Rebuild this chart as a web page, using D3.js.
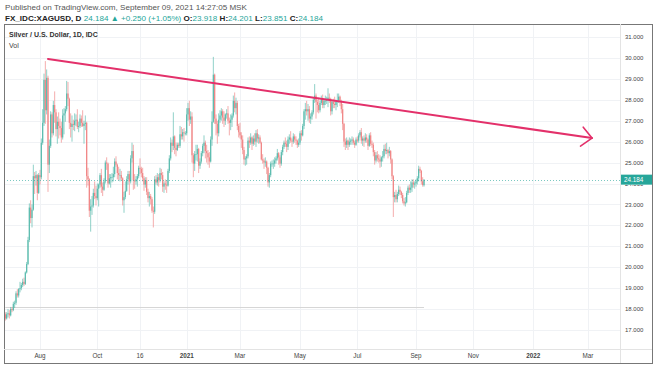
<!DOCTYPE html>
<html>
<head>
<meta charset="utf-8">
<script src="https://cdn.jsdelivr.net/npm/d3@7"></script>
<style>
  body { margin: 0; background: #fff; }
  svg { display: block; font-family: "Liberation Sans", Arial, sans-serif; }
</style>
</head>
<body>
<svg id="chart" width="654" height="366"></svg>
<script>
// daily XAGUSD candles, first bar 2020-06-26, weekdays only (one line = one week)
const firstDate = "2020-06-26";

const opens = [
  17.75,
  17.55,17.75,17.8,17.7,18.0,
  17.95,18.25,18.3,18.75,18.65,
  18.95,19.0,19.15,19.3,19.2,
  19.75,20.15,21.3,22.85,22.35,
  22.75,24.35,24.25,24.4,23.55,
  24.4,24.3,25.95,26.9,28.95,
  27.5,29.05,24.9,25.8,27.3,
  26.4,27.75,27.4,26.6,26.95,
  26.75,26.65,26.2,27.25,27.35,
  27.55,28.3,28.05,26.9,26.7,
  26.85,26.8,27.0,27.05,26.7,
  26.75,27.1,26.9,26.75,26.85,
  26.9,24.35,24.2,22.7,22.9,
  22.95,23.55,23.4,23.3,23.75,
  23.95,24.4,23.85,23.7,24.1,
  25.0,24.95,24.0,24.25,24.3,
  24.3,24.45,25.05,24.9,24.5,
  24.4,24.4,24.25,23.2,23.35,
  23.65,24.2,24.45,24.1,25.2,
  25.55,24.15,24.1,24.2,24.35,
  24.75,24.7,24.5,24.25,23.95,
  24.15,23.6,23.3,23.4,23.25,
  22.7,22.65,24.2,24.05,24.3,
  24.15,24.5,24.4,23.85,24.0,
  23.95,23.9,24.6,25.2,25.95,
  25.8,26.25,25.7,25.6,25.85,
  25.8,26.35,26.25,26.45,26.4,
  26.4,27.3,27.6,27.05,27.2,
  25.35,24.95,25.4,25.4,25.65,
  24.85,25.05,25.45,25.8,25.95,
  25.55,25.45,25.25,25.05,26.1,
  26.95,29.2,27.1,26.85,26.4,
  27.05,27.25,27.45,27.15,27.0,
  27.3,27.35,27.0,26.9,27.05,
  27.25,27.95,27.6,27.85,26.75,
  26.45,26.3,26.1,25.6,25.15,
  25.2,25.3,26.05,25.95,26.2,
  25.9,26.15,26.0,26.4,26.15,
  26.2,25.95,25.15,25.1,25.0,
  25.05,24.75,24.05,24.4,24.95,
  24.95,24.95,25.1,25.2,25.45,
  25.25,24.95,25.5,25.75,25.95,
  25.9,25.75,26.1,26.2,26.05,
  26.0,26.25,26.1,26.05,25.85,
  25.95,26.4,26.3,26.75,27.45,
  27.55,27.45,27.55,27.1,27.2,
  27.4,28.0,28.2,27.9,27.75,
  27.5,27.85,28.05,27.75,27.95,
  27.95,28.0,28.1,28.05,27.45,
  27.9,27.8,27.75,27.9,27.95,
  28.15,27.9,27.55,26.85,26.0,
  25.85,26.05,25.85,26.0,26.05,
  26.1,25.95,25.85,26.1,26.05,
  26.3,26.45,26.05,26.15,26.05,
  26.2,26.1,25.8,26.3,25.9,
  25.85,25.5,25.1,25.35,25.2,
  25.15,25.05,25.25,25.3,25.65,
  25.55,25.6,25.45,25.55,25.15,
  24.35,23.35,23.45,23.25,23.5,
  23.7,23.6,23.45,23.15,23.05,
  23.1,23.55,23.8,23.7,23.8,
  24.05,23.95,24.0,24.1,24.25,
  24.7,24.6,24.1,23.918
];

const highs = [
  17.85,
  17.85,18.0,17.95,18.1,18.1,
  18.35,18.4,18.85,18.95,19.0,
  19.3,19.25,19.45,19.5,19.8,
  20.25,21.45,23.05,23.2,23.0,
  24.9,24.55,24.6,24.45,24.5,
  24.65,26.15,27.55,29.25,29.85,
  29.45,29.15,26.1,27.45,27.4,
  27.95,28.4,27.55,27.2,27.4,
  27.1,26.95,27.55,27.6,27.7,
  28.9,28.85,28.1,27.35,27.25,
  27.05,27.35,27.3,27.55,26.95,
  27.3,27.25,27.5,27.0,27.25,
  26.95,24.75,24.25,23.25,23.4,
  23.75,24.1,23.9,24.0,24.0,
  24.5,24.7,24.05,24.25,25.1,
  25.25,25.0,24.45,24.45,24.5,
  24.8,25.2,25.3,24.95,24.8,
  24.7,24.6,24.3,23.6,24.1,
  24.35,24.6,24.6,25.35,25.95,
  25.85,24.45,24.35,24.45,24.85,
  25.2,24.8,24.75,24.35,24.3,
  24.3,23.75,23.6,23.5,23.35,
  22.9,24.35,24.4,24.5,24.45,
  24.75,24.7,24.55,24.1,24.2,
  24.15,24.7,25.35,26.2,26.1,
  27.4,26.3,25.95,25.95,25.95,
  26.75,26.7,26.6,26.65,26.5,
  27.6,27.85,27.95,27.45,27.4,
  25.45,25.55,25.85,25.85,25.7,
  25.2,25.55,25.9,26.3,26.05,
  25.85,25.6,25.5,26.25,27.45,
  30.05,29.25,27.3,27.0,27.35,
  27.5,27.6,27.55,27.45,27.35,
  27.55,27.7,27.15,27.3,27.35,
  28.2,28.35,28.1,27.95,26.85,
  26.9,26.45,26.3,25.75,25.3,
  25.4,26.2,26.25,26.4,26.25,
  26.3,26.4,26.55,26.6,26.35,
  26.3,26.0,25.4,25.2,25.25,
  25.1,24.8,24.5,25.05,25.1,
  25.15,25.25,25.3,25.65,25.5,
  25.35,25.6,25.85,26.05,26.2,
  26.05,26.25,26.35,26.5,26.15,
  26.4,26.35,26.25,26.1,26.15,
  26.5,26.55,26.85,27.55,27.85,
  27.95,27.8,27.7,27.35,27.5,
  28.1,28.75,28.3,28.0,28.1,
  27.95,28.2,28.25,28.05,28.2,
  28.15,28.55,28.3,28.1,28.0,
  28.05,28.15,28.0,28.3,28.3,
  28.2,28.0,27.8,26.9,26.15,
  26.2,26.1,26.2,26.15,26.25,
  26.2,26.05,26.2,26.25,26.4,
  26.55,26.65,26.25,26.3,26.4,
  26.35,26.15,26.4,26.45,26.05,
  25.95,25.6,25.5,25.55,25.4,
  25.35,25.3,25.55,25.85,25.9,
  25.95,25.65,25.75,25.6,25.2,
  24.4,23.6,23.7,23.6,23.9,
  23.85,23.65,23.55,23.3,23.35,
  23.65,23.9,23.95,24.1,24.2,
  24.2,24.1,24.2,24.35,24.85,
  24.8,24.65,24.3,24.201
];

const lows = [
  17.45,
  17.5,17.6,17.55,17.65,17.85,
  17.9,18.05,18.2,18.55,18.55,
  18.8,18.9,19.05,19.1,19.15,
  19.7,20.1,21.2,22.1,21.9,
  22.7,23.5,23.9,23.2,23.5,
  23.95,24.2,25.85,26.75,26.85,
  27.3,23.6,24.5,25.7,26.2,
  26.3,26.9,26.25,25.9,26.15,
  26.3,25.95,26.1,26.35,26.95,
  27.45,27.7,26.6,26.2,26.0,
  26.55,26.5,26.75,26.6,26.45,
  26.65,26.7,26.7,25.9,26.55,
  23.8,23.9,22.4,21.7,22.5,
  22.85,23.25,22.95,23.2,22.9,
  23.8,23.55,23.4,23.65,24.0,
  24.65,23.8,23.95,23.8,24.05,
  24.1,24.3,24.8,24.2,24.15,
  24.1,24.15,22.95,22.6,23.25,
  23.6,23.95,23.45,24.0,25.0,
  23.7,23.75,23.95,23.85,24.25,
  24.45,24.3,24.1,23.65,23.8,
  23.45,23.1,22.9,23.0,22.6,
  21.9,22.55,23.95,23.9,23.85,
  24.05,24.2,23.6,23.55,23.7,
  23.55,23.85,24.5,25.1,25.5,
  25.6,25.4,25.3,25.55,25.7,
  25.7,26.1,26.1,26.0,26.3,
  26.3,27.0,26.75,26.85,25.0,
  24.3,24.6,25.1,25.05,24.5,
  24.7,24.95,25.3,25.45,25.2,
  25.0,24.9,24.75,25.0,25.8,
  26.9,26.85,26.3,25.9,26.25,
  26.9,27.0,26.85,26.7,26.8,
  27.1,26.85,26.3,26.55,26.7,
  27.15,27.4,27.3,26.55,26.2,
  26.15,25.7,25.4,24.9,24.85,
  24.9,25.2,25.7,25.85,25.6,
  25.8,25.85,25.75,25.95,25.9,
  25.9,25.1,24.95,24.7,24.8,
  24.45,23.85,23.8,24.3,24.8,
  24.7,24.8,24.95,25.1,24.9,
  24.75,24.85,25.35,25.65,25.75,
  25.5,25.6,25.9,25.95,25.75,
  25.9,25.95,25.85,25.7,25.75,
  25.85,26.05,26.25,26.6,27.05,
  27.25,27.0,26.9,26.85,27.05,
  27.3,27.85,27.1,27.4,27.35,
  27.4,27.75,27.6,27.6,27.75,
  27.8,27.65,27.85,27.25,27.3,
  27.6,27.6,27.5,27.65,27.85,
  27.7,27.35,26.55,25.75,25.6,
  25.7,25.6,25.75,25.85,25.85,
  25.85,25.7,25.8,25.95,25.95,
  26.2,25.9,25.8,25.75,25.95,
  25.95,25.6,25.75,25.8,25.7,
  25.3,24.9,25.0,25.05,25.0,
  24.75,24.8,25.05,25.2,25.4,
  25.4,25.2,25.3,24.95,24.2,
  22.4,23.1,23.1,23.1,23.4,
  23.45,23.3,23.05,22.95,22.9,
  23.05,23.45,23.55,23.55,23.6,
  23.8,23.75,23.85,23.95,24.1,
  24.5,23.95,23.85,23.851
];

const closes = [
  17.55,
  17.75,17.8,17.7,18.0,17.95,
  18.25,18.3,18.75,18.65,18.95,
  19.0,19.15,19.3,19.2,19.75,
  20.15,21.3,22.85,22.35,22.75,
  24.35,24.25,24.4,23.55,24.4,
  24.3,25.95,26.9,28.95,27.5,
  29.05,24.9,25.8,27.3,26.4,
  27.75,27.4,26.6,26.95,26.75,
  26.65,26.2,27.25,27.35,27.55,
  28.3,28.05,26.9,26.7,26.85,
  26.8,27.0,27.05,26.7,26.75,
  27.1,26.9,26.75,26.85,26.9,
  24.35,24.2,22.7,22.9,22.95,
  23.55,23.4,23.3,23.75,23.95,
  24.4,23.85,23.7,24.1,25.0,
  24.95,24.0,24.25,24.3,24.3,
  24.45,25.05,24.9,24.5,24.4,
  24.4,24.25,23.2,23.35,23.65,
  24.2,24.45,24.1,25.2,25.55,
  24.15,24.1,24.2,24.35,24.75,
  24.7,24.5,24.25,23.95,24.15,
  23.6,23.3,23.4,23.25,22.7,
  22.65,24.2,24.05,24.3,24.15,
  24.5,24.4,23.85,24.0,23.95,
  23.9,24.6,25.2,25.95,25.8,
  26.25,25.7,25.6,25.85,25.8,
  26.35,26.25,26.45,26.4,26.4,
  27.3,27.6,27.05,27.2,25.35,
  24.95,25.4,25.4,25.65,24.85,
  25.05,25.45,25.8,25.95,25.55,
  25.45,25.25,25.05,26.1,26.95,
  29.2,27.1,26.85,26.4,27.05,
  27.25,27.45,27.15,27.0,27.3,
  27.35,27.0,26.9,27.05,27.25,
  27.95,27.6,27.85,26.75,26.45,
  26.3,26.1,25.6,25.15,25.2,
  25.3,26.05,25.95,26.2,25.9,
  26.15,26.0,26.4,26.15,26.2,
  25.95,25.15,25.1,25.0,25.05,
  24.75,24.05,24.4,24.95,24.95,
  24.95,25.1,25.2,25.45,25.25,
  24.95,25.5,25.75,25.95,25.9,
  25.75,26.1,26.2,26.05,26.0,
  26.25,26.1,26.05,25.85,25.95,
  26.4,26.3,26.75,27.45,27.55,
  27.45,27.55,27.1,27.2,27.4,
  28.0,28.2,27.9,27.75,27.5,
  27.85,28.05,27.75,27.95,27.95,
  28.0,28.1,28.05,27.45,27.9,
  27.8,27.75,27.9,27.95,28.15,
  27.9,27.55,26.85,26.0,25.85,
  26.05,25.85,26.0,26.05,26.1,
  25.95,25.85,26.1,26.05,26.3,
  26.45,26.05,26.15,26.05,26.2,
  26.1,25.8,26.3,25.9,25.85,
  25.5,25.1,25.35,25.2,25.15,
  25.05,25.25,25.3,25.65,25.55,
  25.6,25.45,25.55,25.15,24.35,
  23.35,23.45,23.25,23.5,23.7,
  23.6,23.45,23.15,23.05,23.1,
  23.55,23.8,23.7,23.8,24.05,
  23.95,24.0,24.1,24.25,24.7,
  24.6,24.1,23.93,24.184
];

const lastPrice = 24.184;
const volLine = 18.1;

const tickDates = ["2020-08-03","2020-10-01","2020-11-16","2021-01-04","2021-03-01","2021-05-03",
                   "2021-07-01","2021-09-01","2021-11-01","2022-01-03","2022-03-01"];
const tickLabels = ["Aug","Oct","16","2021","Mar","May","Jul","Sep","Nov","2022","Mar"];
const yearTicks = ["2021","2022"];
const priceTicks = [17,18,19,20,21,22,23,24,25,26,27,28,29,30,31];

// drawn trend line with arrow
const trendStart = { date: "2020-08-11", price: 29.95 };
const trendEnd = { date: "2022-03-04", price: 26.17 };

// ---- helpers
const parse = d3.utcParse("%Y-%m-%d");
const t0 = parse(firstDate);
function weekdayIndex(ds) {
  const d = parse(ds);
  return d3.utcDay.count(t0, d) - (d3.utcSaturday.count(t0, d) + d3.utcSunday.count(t0, d));
}

const n = Math.min(opens.length, highs.length, lows.length, closes.length);
const bars = d3.range(n).map(i => ({ i, o: opens[i], h: highs[i], l: lows[i], c: closes[i] }));

const svg = d3.select("#chart");
const padL = 4, padR = 652, padT = 24, padB = 363, axisX = 620, axisY = 349;

const x = d3.scaleLinear().domain([-1, 461]).range([padL, axisX]);
const y = d3.scaleLinear().domain([17, 31]).range([330, 37]);

// header texts
svg.append("text").attr("x", 5).attr("y", 9.5)
  .attr("font-size", 8.1).attr("fill", "#555")
  .text("Published on TradingView.com, September 09, 2021 14:27:05 MSK");

const hdr = svg.append("text").attr("x", 5).attr("y", 20.5).attr("font-size", 8.1).attr("fill", "#222");
const teal = "#26a69a";
[["FX_IDC:XAGUSD, D ", "#222", "bold"], ["24.184 ", teal, "normal"], ["\u25B2 +0.250 (+1.05%) ", teal, "normal"],
 ["O:", "#222", "bold"], ["23.918 ", teal, "normal"], ["H:", "#222", "bold"], ["24.201 ", teal, "normal"],
 ["L:", "#222", "bold"], ["23.851 ", teal, "normal"], ["C:", "#222", "bold"], ["24.184", teal, "normal"]]
  .forEach(p => hdr.append("tspan").attr("fill", p[1]).attr("font-weight", p[2]).text(p[0]));

// grid
const g = svg.append("g");
g.selectAll(".hg").data(priceTicks).enter().append("line")
  .attr("x1", padL).attr("x2", axisX).attr("y1", d => Math.round(y(d)) + 0.5).attr("y2", d => Math.round(y(d)) + 0.5)
  .attr("stroke", "#f0f2f5");
g.selectAll(".vg").data(tickDates).enter().append("line")
  .attr("x1", d => Math.round(x(weekdayIndex(d))) + 0.5).attr("x2", d => Math.round(x(weekdayIndex(d))) + 0.5)
  .attr("y1", padT).attr("y2", axisY).attr("stroke", "#f0f2f5");

// volume baseline
g.append("line")
  .attr("x1", x(0)).attr("x2", x(n - 1))
  .attr("y1", Math.round(y(volLine)) + 0.5).attr("y2", Math.round(y(volLine)) + 0.5)
  .attr("stroke", "#d6d6d6");

// candles
const upC = "#52b8aa", dnC = "#f08080";
const cg = svg.append("g");
cg.selectAll(".wick").data(bars).enter().append("line")
  .attr("x1", d => x(d.i)).attr("x2", d => x(d.i))
  .attr("y1", d => y(d.h)).attr("y2", d => y(d.l))
  .attr("stroke", d => d.c >= d.o ? upC : dnC).attr("stroke-width", 0.8).attr("opacity", 0.8);
cg.selectAll(".body").data(bars).enter().append("rect")
  .attr("x", d => x(d.i) - 0.6).attr("width", 1.2)
  .attr("y", d => y(Math.max(d.o, d.c)))
  .attr("height", d => Math.max(0.6, Math.abs(y(d.o) - y(d.c))))
  .attr("fill", d => d.c >= d.o ? upC : dnC).attr("opacity", 0.9);

// last price dotted line
svg.append("line").attr("x1", padL).attr("x2", axisX)
  .attr("y1", Math.round(y(lastPrice)) + 0.5).attr("y2", Math.round(y(lastPrice)) + 0.5)
  .attr("stroke", teal).attr("stroke-width", 1).attr("stroke-dasharray", "1,2").attr("opacity", 0.6);

// trend line + arrow
const tx1 = x(weekdayIndex(trendStart.date)), ty1 = y(trendStart.price);
const tx2 = x(weekdayIndex(trendEnd.date)), ty2 = y(trendEnd.price);
const pink = "#e3306a";
svg.append("line").attr("x1", tx1).attr("y1", ty1).attr("x2", tx2).attr("y2", ty2)
  .attr("stroke", pink).attr("stroke-width", 2).attr("stroke-linecap", "round");
const ang = Math.atan2(ty2 - ty1, tx2 - tx1);
const al = 14, spread = 0.75;
const arrow = d3.path();
arrow.moveTo(tx2 - al * Math.cos(ang - spread), ty2 - al * Math.sin(ang - spread));
arrow.lineTo(tx2, ty2);
arrow.lineTo(tx2 - al * Math.cos(ang + spread), ty2 - al * Math.sin(ang + spread));
svg.append("path").attr("d", arrow.toString()).attr("fill", "none")
  .attr("stroke", pink).attr("stroke-width", 1.6).attr("stroke-linecap", "round").attr("stroke-linejoin", "round");

// legend inside pane
svg.append("text").attr("x", 9).attr("y", 37).attr("font-size", 7).attr("font-weight", "bold").attr("fill", "#333")
  .text("Silver / U.S. Dollar, 1D, IDC");
svg.append("text").attr("x", 9).attr("y", 48).attr("font-size", 7).attr("fill", "#444").text("Vol");

// price axis (the 24.000 label peeks out from under the last-price tag)
const labelTop = y(lastPrice) + 5;
svg.append("clipPath").attr("id", "under-tag").append("rect")
  .attr("x", axisX).attr("y", labelTop).attr("width", 34).attr("height", 20);
svg.append("g").selectAll("text").data(priceTicks).enter().append("text")
  .attr("x", 625).attr("y", d => y(d)).attr("dy", "0.35em")
  .attr("font-size", 6).attr("fill", "#444")
  .attr("clip-path", d => Math.abs(y(d) - y(lastPrice)) < 8 ? "url(#under-tag)" : null)
  .text(d3.format(".3f"));

svg.append("rect").attr("x", axisX + 1).attr("y", y(lastPrice) - 5).attr("width", 31).attr("height", 10).attr("fill", teal);
svg.append("text").attr("x", 624).attr("y", y(lastPrice)).attr("dy", "0.35em")
  .attr("font-size", 6.3).attr("fill", "#fff").text(lastPrice.toFixed(3));

// time axis
svg.append("g").selectAll("text").data(tickDates).enter().append("text")
  .attr("x", d => x(weekdayIndex(d))).attr("y", 356).attr("dy", "0.35em")
  .attr("text-anchor", "middle").attr("font-size", 6.3)
  .attr("font-weight", (d, i) => yearTicks.includes(tickLabels[i]) ? "bold" : "normal")
  .attr("fill", "#444")
  .text((d, i) => tickLabels[i]);

// frame and separators
svg.append("rect").attr("x", padL + 0.5).attr("y", padT + 0.5).attr("width", padR - padL).attr("height", padB - padT)
  .attr("fill", "none").attr("stroke", "#777");
svg.append("line").attr("x1", axisX + 0.5).attr("x2", axisX + 0.5).attr("y1", padT).attr("y2", padB).attr("stroke", "#e3e3e3");
svg.append("line").attr("x1", padL).attr("x2", padR).attr("y1", axisY + 0.5).attr("y2", axisY + 0.5).attr("stroke", "#e3e3e3");
</script>
</body>
</html>
